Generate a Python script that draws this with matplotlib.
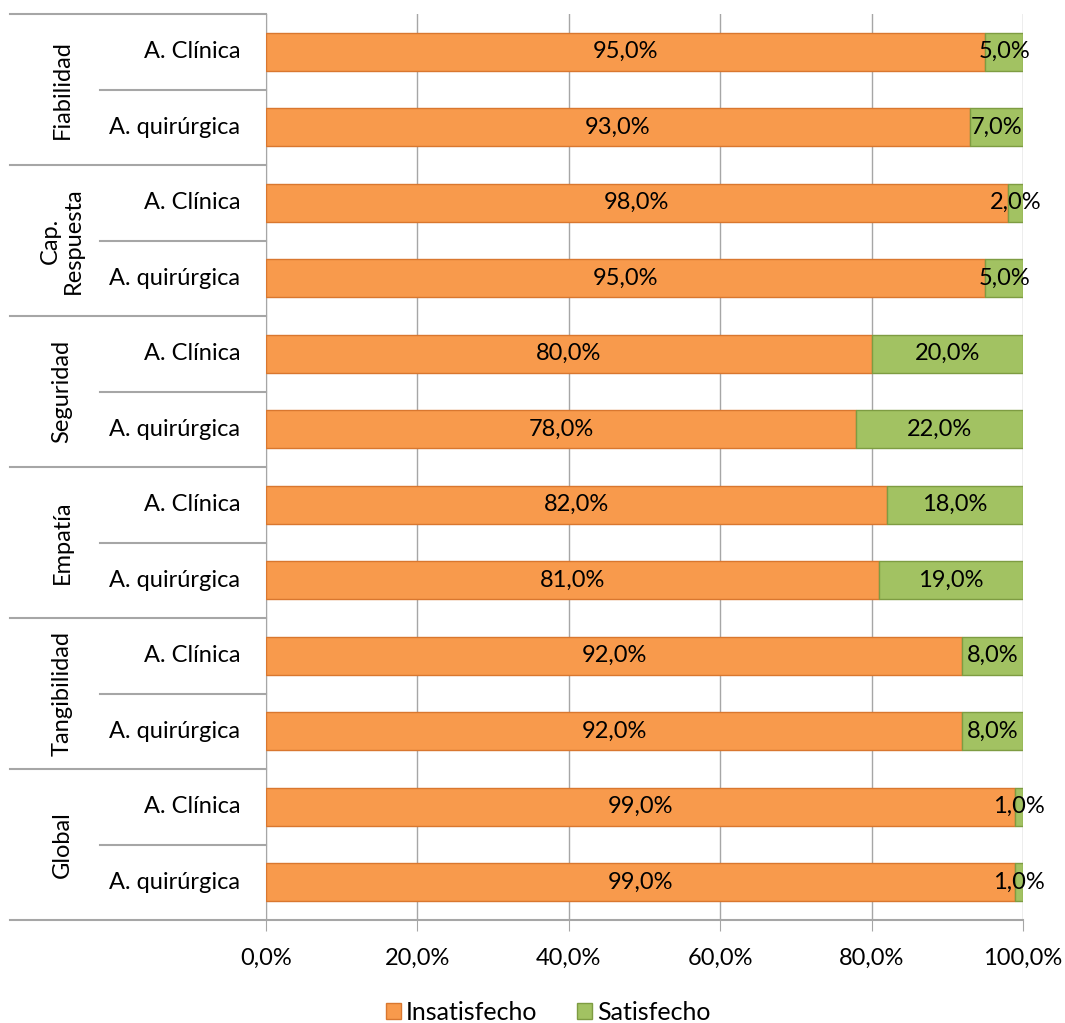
import matplotlib

matplotlib.use("Agg")

import matplotlib.pyplot as plt  # noqa: E402
import matplotlib.transforms as mtransforms  # noqa: E402
from matplotlib.patches import Patch  # noqa: E402
import numpy as np  # noqa: E402

plt.rcParams["font.family"] = ["Lato", "DejaVu Sans"]

# ─── Data ────────────────────────────────────────────────────────────────────

groups = ["Fiabilidad", "Cap.\nRespuesta", "Seguridad", "Empatía", "Tangibilidad", "Global"]
subcats = ["A. Clínica", "A. quirúrgica"]
insatisfecho = [95.0, 93.0, 98.0, 95.0, 80.0, 78.0, 82.0, 81.0, 92.0, 92.0, 99.0, 99.0]
satisfecho = [5.0, 7.0, 2.0, 5.0, 20.0, 22.0, 18.0, 19.0, 8.0, 8.0, 1.0, 1.0]
x_ticks = [0, 20, 40, 60, 80, 100]

ORANGE = "#F89A4C"
ORANGE_EDGE = "#D9772F"
GREEN = "#A2C262"
GREEN_EDGE = "#7E9C42"
GRID = "#A6A6A6"
FS = 17

W, H = 1065, 1023
fig = plt.figure(figsize=(W / 100, H / 100), dpi=100)
left, right, top, bottom = 266, 1023, 14, 920
ax = fig.add_axes([left / W, 1 - bottom / H, (right - left) / W, (bottom - top) / H])

n = len(insatisfecho)
y = np.arange(n)
ax.barh(y, insatisfecho, height=0.5, color=ORANGE, edgecolor=ORANGE_EDGE, linewidth=1, zorder=3)
ax.barh(y, satisfecho, left=insatisfecho, height=0.5, color=GREEN, edgecolor=GREEN_EDGE,
        linewidth=1, zorder=3)

for i in range(n):
    ax.text(insatisfecho[i] / 2, i, f"{insatisfecho[i]:.1f}%".replace(".", ","),
            ha="center", va="center", fontsize=FS, zorder=5)
    ax.text(insatisfecho[i] + satisfecho[i] / 2, i, f"{satisfecho[i]:.1f}%".replace(".", ","),
            ha="center", va="center", fontsize=FS, zorder=5)

ax.set_xlim(0, 100)
ax.set_ylim(n - 0.5, -0.5)
ax.set_xticks(x_ticks)
ax.set_xticklabels([f"{t:.1f}%".replace(".", ",") for t in x_ticks], fontsize=FS)
ax.tick_params(axis="x", length=8, color=GRID, pad=12)
ax.set_yticks([])
ax.grid(True, axis="x", color=GRID, linewidth=1, zorder=0)
for side in ["top", "right"]:
    ax.spines[side].set_visible(False)
ax.spines["left"].set_color(GRID)
ax.spines["bottom"].set_visible(False)

# hierarchical category axis
trans = mtransforms.blended_transform_factory(ax.transAxes, ax.transData)
x_outer = (10 - left) / (right - left)
x_inner = (100 - left) / (right - left)
x_label = (240 - left) / (right - left)
x_group = (62 - left) / (right - left)

for i in range(n):
    ax.text(x_label, i, subcats[i % 2], transform=trans, ha="right", va="center",
            fontsize=FS, clip_on=False)
    if i % 2 == 1:
        ax.plot([x_inner, 0], [i - 0.5, i - 0.5], transform=trans, color=GRID,
                linewidth=1.5, clip_on=False)

for g, name in enumerate(groups):
    ax.plot([x_outer, 0], [2 * g - 0.5, 2 * g - 0.5], transform=trans, color=GRID,
            linewidth=1.5, clip_on=False)
    ax.text(x_group, 2 * g + 0.5, name, transform=trans, rotation=90, ha="center",
            va="center", fontsize=FS, clip_on=False, linespacing=1.1)
ax.plot([x_outer, 1], [n - 0.5, n - 0.5], transform=trans, color=GRID,
        linewidth=1.5, clip_on=False)

handles = [Patch(facecolor=ORANGE, edgecolor=ORANGE_EDGE, label="Insatisfecho"),
           Patch(facecolor=GREEN, edgecolor=GREEN_EDGE, label="Satisfecho")]
fig.legend(handles=handles, loc="center", bbox_to_anchor=(0.515, 1 - 1012 / H), ncol=2,
           frameon=False, fontsize=18, handlelength=0.6, handleheight=0.6,
           handletextpad=0.2, columnspacing=1.6)

fig.savefig("out.png", dpi=100)
plt.close(fig)
